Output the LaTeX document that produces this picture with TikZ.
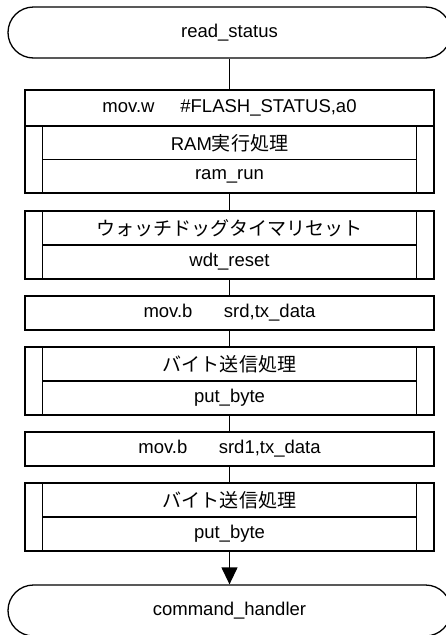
\documentclass[tikz,border=0pt]{standalone}
\usepackage{fontspec}
\setmainfont{Liberation Sans}
\newfontfamily\cjk{Noto Sans CJK JP}[Scale=1.03]
\usetikzlibrary{arrows.meta,shapes.misc}
\tikzset{
  termbox/.style={draw, rounded rectangle, minimum width=443pt, minimum height=51pt, inner sep=0pt},
  procbox/.style={draw, rectangle, minimum width=409pt, minimum height=34pt, inner sep=0pt},
  subbox/.style={draw, rectangle, minimum width=409pt, minimum height=68pt, inner sep=0pt},
  label/.style={inner sep=0pt, font=\fontsize{18.5}{20}\selectfont},
  flow/.style={draw, line width=1.3pt}
}
\newcommand{\subrule}[1]{%
  \draw[flow] ([xshift=18pt]#1.north west) -- ([xshift=18pt]#1.south west);
  \draw[flow] ([xshift=-18pt]#1.north east) -- ([xshift=-18pt]#1.south east);
  \draw[flow] ([xshift=18pt]#1.west) -- ([xshift=-18pt]#1.east);}
\begin{document}
\begin{tikzpicture}[x=1pt, y=-1pt, every node/.append style={line width=1.3pt}]
\useasboundingbox (0,0) rectangle (446,635);
\node[termbox] (start) at (229.5,32.5) {};
\node[label] at (start) {read\_status};
\node[procbox, minimum height=36pt] (p1) at (229.5,108) {};
\node[label] at (p1) {mov.w\hspace{1.4em}\#FLASH\_STATUS,a0};
\node[subbox, minimum height=67pt] (s1) at (229.5,159.5) {};
\node[label] (s1t) at (229.5,143) {RAM{\cjk 実行処理}};
\node[label] (s1b) at (229.5,176.5) {ram\_run};
\node[subbox] (s2) at (229.5,245) {};
\node[label] (s2t) at (229.5,228) {\cjk ウォッチドッグタイマリセット};
\node[label] (s2b) at (229.5,262) {wdt\_reset};
\node[procbox] (p2) at (229.5,313) {};
\node[label] at (p2) {mov.b\hspace{1.7em}srd,tx\_data};
\node[subbox] (s3) at (229.5,381) {};
\node[label] (s3t) at (229.5,364) {\cjk バイト送信処理};
\node[label] (s3b) at (229.5,398) {put\_byte};
\node[procbox] (p3) at (229.5,449) {};
\node[label] at (p3) {mov.b\hspace{1.7em}srd1,tx\_data};
\node[subbox] (s4) at (229.5,517) {};
\node[label] (s4t) at (229.5,500) {\cjk バイト送信処理};
\node[label] (s4b) at (229.5,534) {put\_byte};
\node[termbox] (end) at (229.5,610.5) {};
\node[label] at (end) {command\_handler};

\subrule{s1}
\subrule{s2}
\subrule{s3}
\subrule{s4}

\draw[flow] (start) -- (p1);
\draw[flow] (s1) -- (s2);
\draw[flow] (s2) -- (p2);
\draw[flow] (p2) -- (s3);
\draw[flow] (s3) -- (p3);
\draw[flow] (p3) -- (s4);
\draw[flow, -{Triangle[width=16pt, length=17pt]}] (s4) -- (end);
\end{tikzpicture}
\end{document}
